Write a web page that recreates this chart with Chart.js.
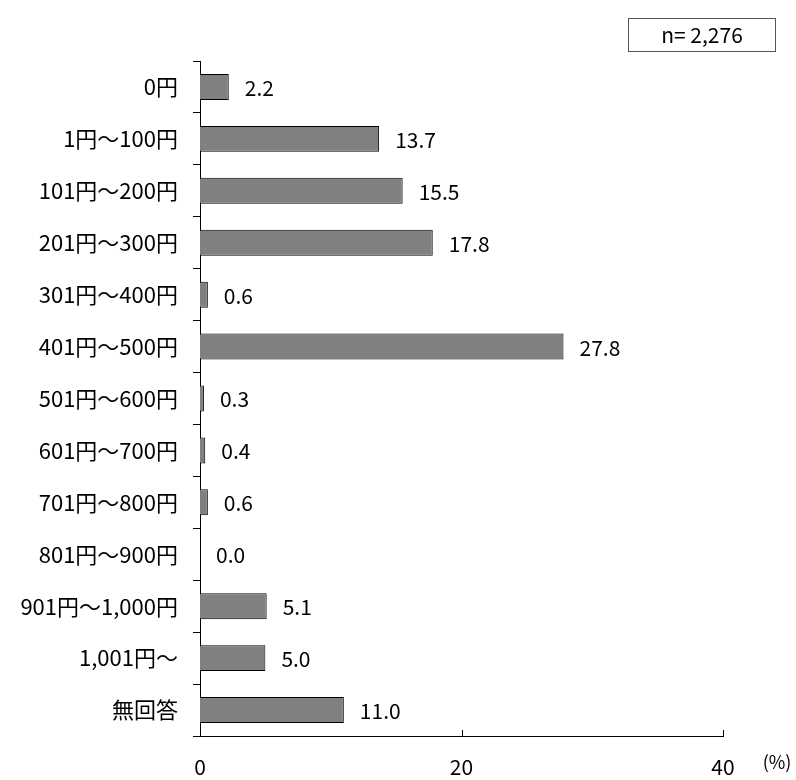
<!DOCTYPE html>
<html>
<head>
<meta charset="utf-8">
<script src="https://cdn.jsdelivr.net/npm/chart.js@4.4.1/dist/chart.umd.min.js"></script>
<style>
  html, body { margin: 0; padding: 0; background: #fff; }
  #wrap { position: relative; width: 796px; height: 780px; }
</style>
</head>
<body>
<div id="wrap"><canvas id="chart" width="796" height="780"></canvas></div>
<script>
/* ── DATA ───────────────────────────────────────── */
const categories = [
  "0円", "1円～100円", "101円～200円", "201円～300円", "301円～400円",
  "401円～500円", "501円～600円", "601円～700円", "701円～800円",
  "801円～900円", "901円～1,000円", "1,001円～", "無回答"
];
const shares = [2.2, 13.7, 15.5, 17.8, 0.6, 27.8, 0.3, 0.4, 0.6, 0.0, 5.1, 5.0, 11.0];
const xTicks = [0, 20, 40];
const sampleNote = "n= 2,276";
const unitLabel = "(%)";

const FONT = '"Noto Sans CJK JP", "Noto Sans", sans-serif';

/* ── PLUGINS ────────────────────────────────────── */
// value labels next to each bar
const valueLabels = {
  id: "valueLabels",
  afterDatasetsDraw(chart) {
    const ctx = chart.ctx;
    const meta = chart.getDatasetMeta(0);
    ctx.save();
    ctx.font = "21px " + FONT;
    ctx.fillStyle = "#000";
    ctx.textAlign = "left";
    ctx.textBaseline = "middle";
    meta.data.forEach((bar, i) => {
      ctx.fillText(shares[i].toFixed(1), bar.x + 16, bar.y + 1);
    });
    ctx.restore();
  }
};

// inward tick marks on x axis, n box and unit label
const extras = {
  id: "extras",
  afterDraw(chart) {
    const ctx = chart.ctx;
    const x = chart.scales.x;
    const bottom = chart.chartArea.bottom;
    ctx.save();
    ctx.strokeStyle = "#000";
    ctx.lineWidth = 1;
    xTicks.forEach((v) => {
      const px = Math.round(x.getPixelForValue(v)) + 0.5;
      ctx.beginPath();
      ctx.moveTo(px, bottom);
      ctx.lineTo(px, bottom - 6);
      ctx.stroke();
    });

    // n box
    ctx.strokeStyle = "#555";
    ctx.strokeRect(628.5, 18.5, 147, 33);
    ctx.fillStyle = "#000";
    ctx.font = "21px " + FONT;
    ctx.textAlign = "center";
    ctx.textBaseline = "middle";
    ctx.fillText(sampleNote, 702, 35);

    // unit
    ctx.font = "18px " + FONT;
    ctx.fillText(unitLabel, 777, 762);
    ctx.restore();
  }
};

/* ── CHART ──────────────────────────────────────── */
new Chart(document.getElementById("chart"), {
  type: "bar",
  data: {
    labels: categories,
    datasets: [{
      data: shares,
      backgroundColor: "#808080",
      borderColor: "#000",
      borderWidth: 1,
      categoryPercentage: 0.5,
      barPercentage: 1
    }]
  },
  options: {
    indexAxis: "y",
    responsive: false,
    animation: false,
    layout: { padding: { top: 61, right: 73, left: 0, bottom: 0 } },
    plugins: { legend: { display: false }, tooltip: { enabled: false } },
    scales: {
      x: {
        min: 0,
        max: 40,
        afterBuildTicks: (s) => { s.ticks = xTicks.map((v) => ({ value: v })); },
        afterFit: (s) => { s.height = 44; },
        border: { display: true, color: "#000", width: 1 },
        grid: { display: false, drawTicks: false },
        ticks: { color: "#000", font: { size: 21, family: FONT }, padding: 18, maxRotation: 0 }
      },
      y: {
        afterFit: (s) => { s.width = 200; },
        border: { display: true, color: "#000", width: 1 },
        grid: { offset: true, drawOnChartArea: false, color: "#000", tickLength: 7 },
        ticks: { color: "#000", font: { size: 22, family: FONT }, padding: 15 }
      }
    }
  },
  plugins: [valueLabels, extras]
});
</script>
</body>
</html>
